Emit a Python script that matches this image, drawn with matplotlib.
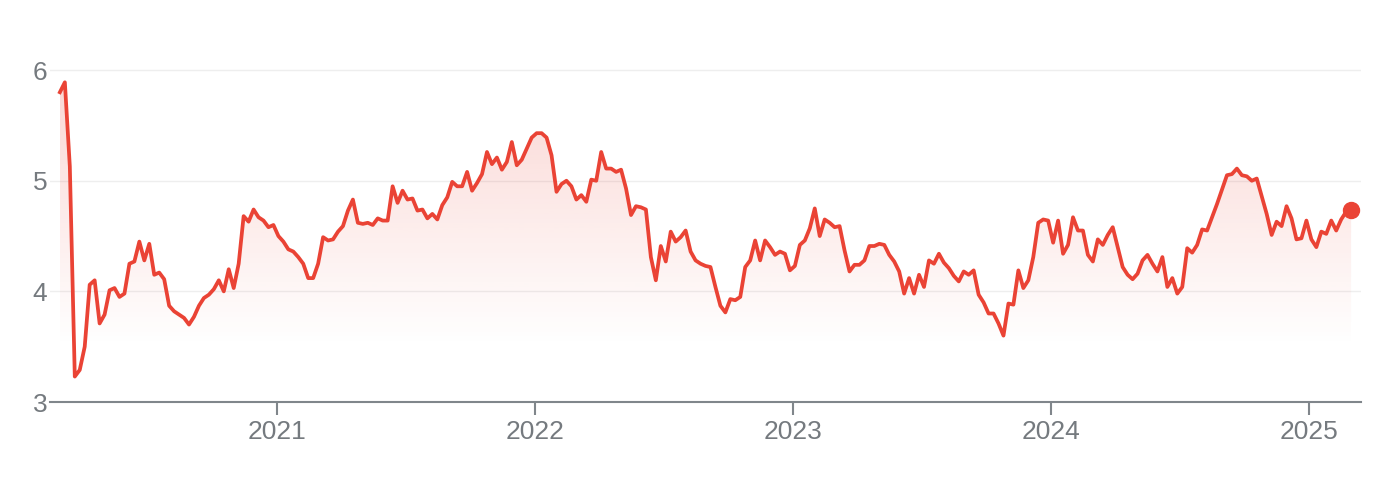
import numpy as np
import pandas as pd
import matplotlib
matplotlib.use('Agg')
import matplotlib.pyplot as plt
import matplotlib.dates as mdates
from matplotlib.colors import to_rgb

# weekly closes, first week of Mar 2020 .. early Mar 2025
start_date = '2020-02-28'
end_date = '2025-03-01'
prices = [
    5.80, 5.89, 5.13, 3.23, 3.29, 3.50, 4.06, 4.10, 3.71, 3.79, 4.01, 4.03,
    3.95, 3.98, 4.25, 4.27, 4.45, 4.28, 4.43, 4.15, 4.17, 4.11, 3.87, 3.82,
    3.79, 3.76, 3.70, 3.77, 3.87, 3.94, 3.97, 4.02, 4.10, 4.00, 4.20, 4.03,
    4.25, 4.68, 4.63, 4.74, 4.67, 4.64, 4.58, 4.60,
    4.50, 4.45, 4.38, 4.36, 4.31, 4.25, 4.12, 4.12, 4.25, 4.49, 4.46, 4.47,
    4.54, 4.59, 4.73, 4.83, 4.62, 4.61, 4.62, 4.60, 4.66, 4.64, 4.64, 4.95,
    4.80, 4.91, 4.83, 4.84, 4.73, 4.74, 4.66, 4.70, 4.65, 4.78, 4.85, 4.99,
    4.95, 4.95, 5.08, 4.91, 4.98, 5.06,
    5.26, 5.15, 5.21, 5.10, 5.17, 5.35, 5.14, 5.19, 5.29, 5.39, 5.43, 5.43,
    5.39, 5.23, 4.90, 4.97, 5.00, 4.95, 4.83, 4.87, 4.81, 5.01, 5.00, 5.26,
    5.11, 5.11, 5.08, 5.10, 4.93, 4.69, 4.77, 4.76, 4.74, 4.31, 4.10, 4.41,
    4.27, 4.54, 4.45, 4.49, 4.55, 4.36, 4.28, 4.25,
    4.23, 4.22, 4.04, 3.87, 3.81, 3.93, 3.92, 3.95, 4.22, 4.28, 4.46, 4.28,
    4.46, 4.40, 4.33, 4.36, 4.34, 4.19, 4.23, 4.42, 4.46, 4.57, 4.75, 4.50,
    4.65, 4.62, 4.58, 4.59, 4.37, 4.18, 4.24, 4.24, 4.28, 4.41, 4.41, 4.43,
    4.42, 4.33, 4.27, 4.18, 3.98,
    4.12, 3.98, 4.15, 4.04, 4.28, 4.25, 4.34, 4.26, 4.21, 4.14, 4.09, 4.18,
    4.15, 4.19, 3.97, 3.90, 3.80, 3.80, 3.71, 3.60, 3.89, 3.88, 4.19, 4.03,
    4.10, 4.31, 4.62, 4.65, 4.64, 4.44, 4.64, 4.34, 4.42, 4.67, 4.55, 4.55,
    4.33, 4.27, 4.47, 4.42, 4.51, 4.58, 4.40, 4.22,
    4.15, 4.11, 4.16, 4.28, 4.33, 4.25, 4.18, 4.31, 4.04, 4.12, 3.98, 4.04,
    4.39, 4.35, 4.42, 4.56, 4.55, 4.67, 4.79, 4.92, 5.05, 5.06, 5.11, 5.05,
    5.04, 5.00, 5.02, 4.86, 4.70, 4.51, 4.63, 4.59, 4.77, 4.66, 4.47, 4.48,
    4.64, 4.47, 4.40, 4.54, 4.52, 4.64, 4.55, 4.65, 4.72, 4.74,
]
y_ticks = [3, 4, 5, 6]

RED = '#ea4335'
GREY_TXT = '#757a7f'
GREY_AX = '#80868b'

plt.rcParams['font.family'] = ['Liberation Sans', 'DejaVu Sans']

dates = pd.date_range(start_date, end_date, periods=len(prices))
x = mdates.date2num(dates)
y = np.array(prices)

fig = plt.figure(figsize=(13.79, 4.88), dpi=100)
ax = fig.add_axes([50 / 1379, 86 / 488, 1311 / 1379, 354 / 488])

# soft gradient under the line
fill = ax.fill_between(x, y, 3, color='none', lw=0)
levels = np.linspace(3, 6, 256)
img = np.zeros((256, 1, 4))
img[..., :3] = to_rgb(RED)
img[:, 0, 3] = np.clip((levels - 3.5) / 2.5, 0, 1) * 0.22
im = ax.imshow(img, extent=[x[0], x[-1], 3, 6], origin='lower',
               aspect='auto', interpolation='bilinear', zorder=1)
im.set_clip_path(fill.get_paths()[0], ax.transData)

ax.plot(x, y, color=RED, lw=2.7, zorder=3)
ax.plot(x[-1], y[-1], 'o', ms=11.5, color=RED, zorder=4)

ax.set_xlim(mdates.datestr2num('2020-02-14'), mdates.datestr2num('2025-03-15'))
ax.set_ylim(3, 6.2)
ax.set_yticks(y_ticks)
ax.grid(axis='y', color='#eeeeee', lw=1)
ax.set_axisbelow(True)

ax.xaxis.set_major_locator(mdates.YearLocator())
ax.xaxis.set_major_formatter(mdates.DateFormatter('%Y'))

ax.tick_params(axis='y', length=0, labelsize=19, labelcolor=GREY_TXT, pad=2)
ax.tick_params(axis='x', length=9, width=1.5, color=GREY_AX, labelsize=19,
               labelcolor=GREY_TXT, pad=4)

for side in ['left', 'top', 'right']:
    ax.spines[side].set_visible(False)
ax.spines['bottom'].set_color(GREY_AX)
ax.spines['bottom'].set_linewidth(1.5)

fig.savefig('out.png', dpi=100)
